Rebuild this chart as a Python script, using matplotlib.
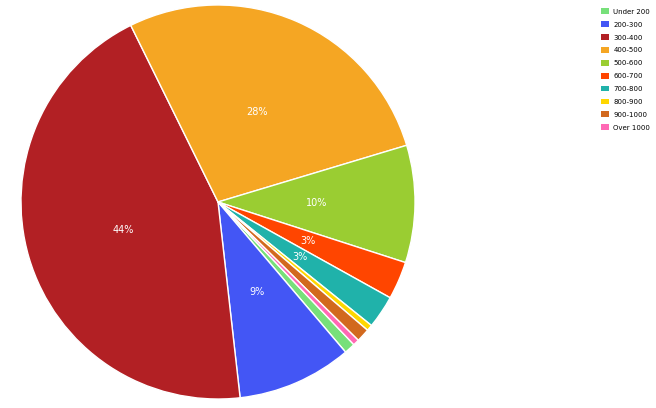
import matplotlib
matplotlib.use("Agg")
import matplotlib.pyplot as plt
from matplotlib.patches import Patch
import numpy as np

categories = ["Under 200", "200-300", "300-400", "400-500", "500-600", "600-700",
              "700-800", "800-900", "900-1000", "Over 1000"]
values = [0.9, 9.4, 44.4, 27.6, 9.6, 3.1, 2.7, 0.5, 1.1, 0.5]
colors = ["#77e07a", "#4356f5", "#b22024", "#f5a623", "#9acd32", "#ff4500",
          "#20b2aa", "#ffd700", "#d2691e", "#ff69b4"]

fig = plt.figure(figsize=(6.56, 4.08), dpi=100)
ax = fig.add_axes([20/656, 8/408, 396/656, 396/408])
total = sum(values)
wedges, texts = ax.pie(values, colors=colors, startangle=90-136.4, counterclock=False,
                       wedgeprops=dict(edgecolor="white", linewidth=1))
for w, v in zip(wedges, values):
    pct = v / total * 100
    if pct < 2.5:
        continue
    ang = np.deg2rad((w.theta1 + w.theta2) / 2)
    ax.text(0.5*np.cos(ang), 0.5*np.sin(ang), f"{pct:.0f}%", color="white",
            ha="center", va="center", fontsize=7)
ax.set_xlim(-1.005, 1.005)
ax.set_ylim(-1.005, 1.005)
ax.set_aspect("equal")

handles = [Patch(facecolor=c, edgecolor="none") for c in colors]
fig.legend(handles, categories, loc="upper left", bbox_to_anchor=(598/656, 1-5/408),
           frameon=False, fontsize=5, handlelength=1.1, handleheight=0.9,
           labelspacing=0.95, handletextpad=0.6, borderpad=0)
fig.savefig("out.png", dpi=100)
